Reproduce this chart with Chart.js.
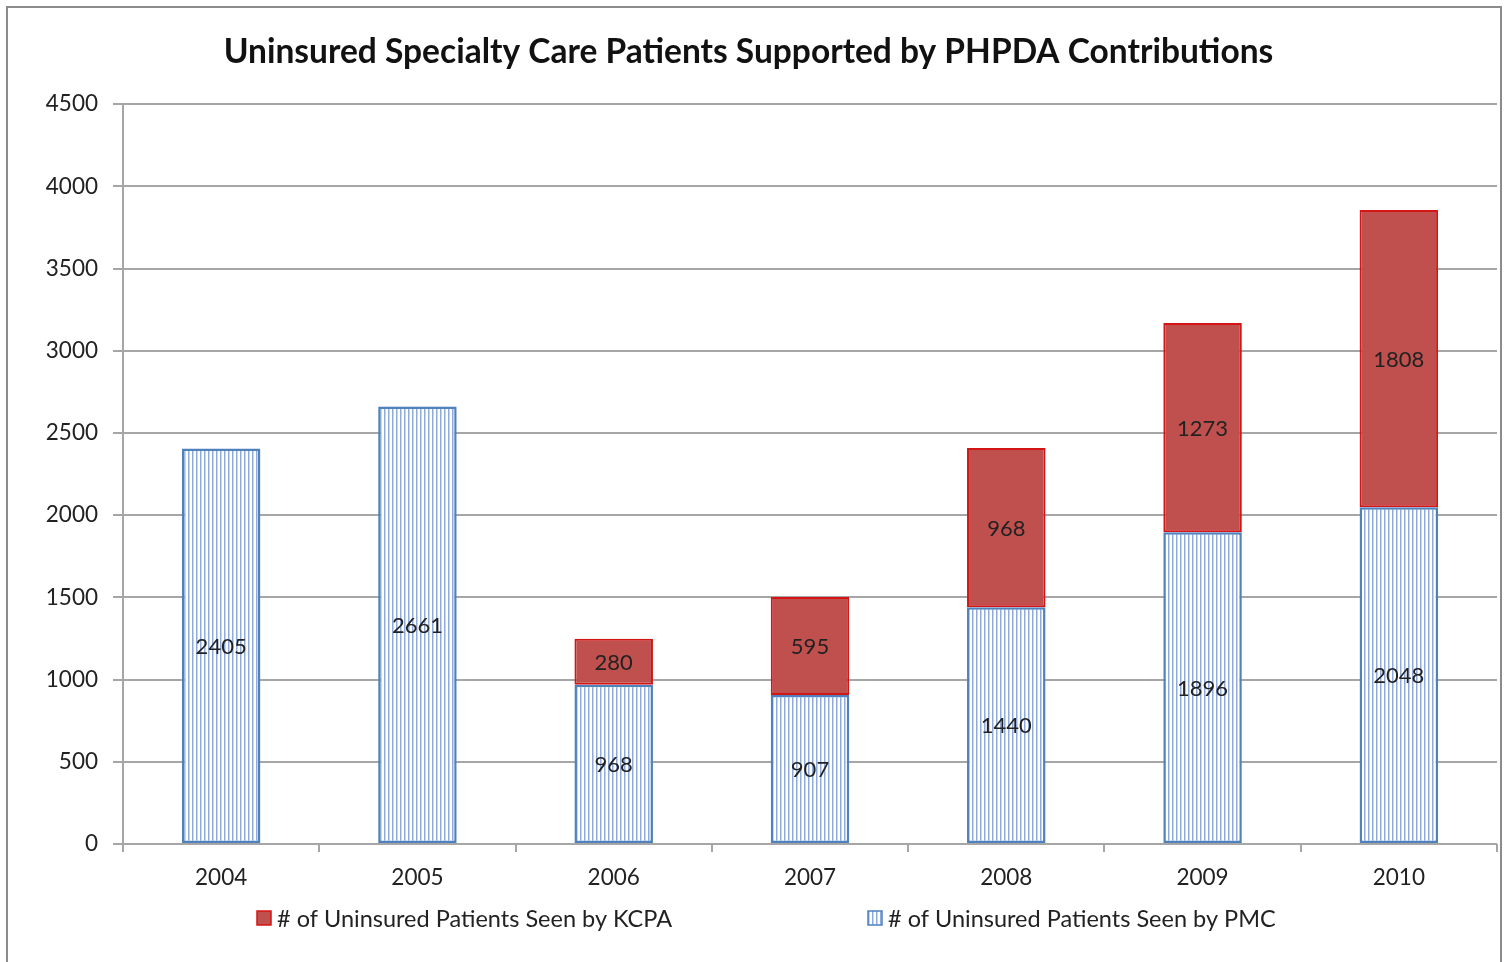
<!DOCTYPE html>
<html>
<head>
<meta charset="utf-8">
<script src="https://cdn.jsdelivr.net/npm/chart.js@4.4.0/dist/chart.umd.min.js"></script>
<style>
  html, body { margin: 0; padding: 0; background: #fff; }
  #wrap { position: relative; width: 1507px; height: 962px; }
  #frame { position: absolute; left: 6px; top: 6px; width: 1496px; height: 970px;
           border: 2px solid #8c8c8c; box-sizing: border-box; pointer-events: none; }
</style>
</head>
<body>
<div id="wrap">
  <canvas id="chart" width="1507" height="962"></canvas>
  <div id="frame"></div>
</div>
<script>
// data
const years = ['2004', '2005', '2006', '2007', '2008', '2009', '2010'];
const pmcPatients = [2405, 2661, 968, 907, 1440, 1896, 2048];
const kcpaPatients = [null, null, 280, 595, 968, 1273, 1808];
const yTicks = [0, 500, 1000, 1500, 2000, 2500, 3000, 3500, 4000, 4500];

const pmcLabel = '# of Uninsured Patients Seen by PMC';
const kcpaLabel = '# of Uninsured Patients Seen by KCPA';

const FONT = 'Lato, "Open Sans", sans-serif';
const RED = '#c0504d';
const RED_EDGE = '#d41515';
const BLUE_EDGE = '#4f81bd';

// vertical stripe fill for the PMC bars
function stripes() {
  const c = document.createElement('canvas');
  c.width = 4; c.height = 4;
  const g = c.getContext('2d');
  g.fillStyle = '#ffffff';
  g.fillRect(0, 0, 4, 4);
  g.fillStyle = '#8eabdc';
  g.fillRect(0, 0, 1.5, 4);
  return g.createPattern(c, 'repeat');
}

const ctx = document.getElementById('chart').getContext('2d');
const stripeFill = stripes();

// numbers in the middle of each bar segment
const valueLabels = {
  id: 'valueLabels',
  afterDatasetsDraw(chart) {
    const c = chart.ctx;
    c.save();
    c.font = '22px ' + FONT;
    c.fillStyle = '#222';
    c.textAlign = 'center';
    c.textBaseline = 'middle';
    chart.data.datasets.forEach((ds, i) => {
      chart.getDatasetMeta(i).data.forEach((bar, j) => {
        const v = ds.data[j];
        if (v == null) return;
        c.fillText(String(v), bar.x, (bar.y + bar.base) / 2 + 1);
      });
    });
    c.restore();
  }
};

// legend under the axis, two items spread apart like the original
const bottomLegend = {
  id: 'bottomLegend',
  afterDraw(chart) {
    const c = chart.ctx;
    const y = 918;
    const items = [
      { x: 257, fill: RED, edge: RED_EDGE, text: kcpaLabel },
      { x: 868, fill: stripeFill, edge: BLUE_EDGE, text: pmcLabel }
    ];
    c.save();
    c.font = '23.5px ' + FONT;
    c.textBaseline = 'middle';
    c.textAlign = 'left';
    items.forEach(it => {
      c.fillStyle = it.fill;
      c.fillRect(it.x, y - 7, 14, 14);
      c.strokeStyle = it.edge;
      c.lineWidth = 1.5;
      c.strokeRect(it.x, y - 7, 14, 14);
      c.fillStyle = '#222';
      c.fillText(it.text, it.x + 20, y + 1);
    });
    c.restore();
  }
};

new Chart(ctx, {
  type: 'bar',
  data: {
    labels: years,
    datasets: [
      {
        label: pmcLabel,
        data: pmcPatients,
        backgroundColor: stripeFill,
        borderColor: BLUE_EDGE,
        borderWidth: 2.5,
        borderSkipped: false,
        categoryPercentage: 1,
        barPercentage: 0.4
      },
      {
        label: kcpaLabel,
        data: kcpaPatients,
        backgroundColor: RED,
        borderColor: RED_EDGE,
        borderWidth: 2,
        borderSkipped: false,
        categoryPercentage: 1,
        barPercentage: 0.4
      }
    ]
  },
  options: {
    responsive: false,
    animation: false,
    layout: { padding: { left: 0, right: 10, bottom: 0 } },
    plugins: {
      legend: { display: false },
      tooltip: { enabled: false },
      title: {
        display: true,
        text: 'Uninsured Specialty Care Patients Supported by PHPDA Contributions',
        color: '#111',
        font: { family: FONT, size: 33.5, weight: 'bold' },
        padding: { top: 32, bottom: 32 }
      }
    },
    scales: {
      x: {
        stacked: true,
        afterFit(scale) { scale.height = 118; },
        grid: {
          drawOnChartArea: false,
          drawTicks: true,
          tickLength: 8,
          color: '#a6a6a6',
          lineWidth: 2
        },
        border: { display: false },
        ticks: {
          color: '#222',
          padding: 12,
          font: { family: FONT, size: 22.5 }
        }
      },
      y: {
        stacked: true,
        min: 0,
        max: 4500,
        afterFit(scale) { scale.width = 123; },
        afterBuildTicks(scale) { scale.ticks = yTicks.map(v => ({ value: v })); },
        grid: {
          color: '#a6a6a6',
          lineWidth: 2,
          tickLength: 10
        },
        border: { color: '#a6a6a6', width: 2 },
        ticks: {
          color: '#222',
          padding: 15,
          font: { family: FONT, size: 22.5 },
          callback: v => String(v)
        }
      }
    }
  },
  plugins: [valueLabels, bottomLegend]
});
</script>
</body>
</html>
